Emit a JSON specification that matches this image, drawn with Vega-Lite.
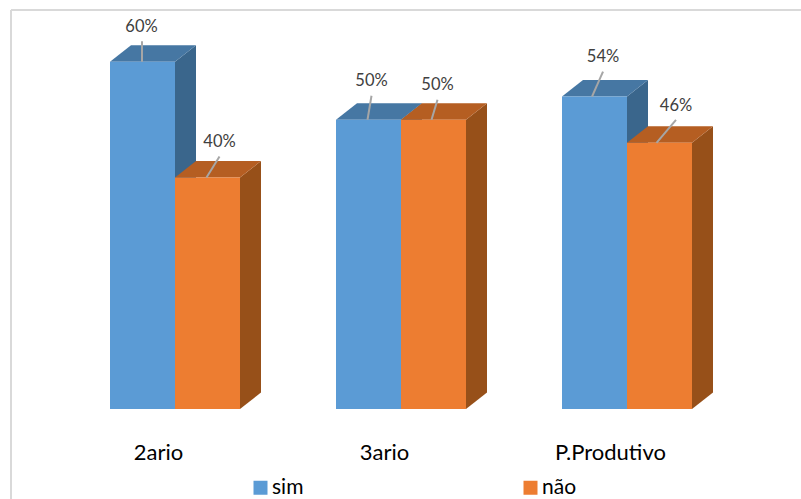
{
  "$schema": "https://vega.github.io/schema/vega-lite/v6.json",
  "width": 678,
  "height": 405,
  "autosize": "none",
  "padding": {"left": 62, "top": 4, "right": 61, "bottom": 90},
  "background": "white",
  "view": {"stroke": null},
  "config": {"font": "Lato"},
  "layer": [
    {
      "data": {"values": [{}]},
      "mark": {"type": "rule", "color": "#d9d9d9", "strokeWidth": 2},
      "encoding": {
        "x": {
          "datum": -0.2257,
          "type": "quantitative",
          "scale": {"domain": [0, 3], "nice": false, "zero": false},
          "axis": {
            "values": [0.5, 1.5, 2.5],
            "labelExpr": "['2ario', '3ario', 'P.Produtivo'][floor(datum.value)]",
            "title": null,
            "domain": false,
            "ticks": false,
            "grid": false,
            "labelFont": "Lato",
            "labelFontSize": 22,
            "labelColor": "#000000",
            "labelPadding": 33,
            "labelOffset": -17,
            "labelFlush": false,
            "labelOverlap": false
          }
        },
        "y": {"datum": 68.96, "type": "quantitative", "scale": {"domain": [0, 70], "nice": false}, "axis": null},
        "y2": {"datum": -16}
      }
    },
    {
      "data": {"values": [{}]},
      "mark": {"type": "rule", "color": "#d9d9d9", "strokeWidth": 2},
      "encoding": {
        "x": {"datum": -0.2257, "type": "quantitative", "scale": {"domain": [0, 3], "nice": false, "zero": false}},
        "x2": {"datum": 3.3},
        "y": {"datum": 68.96, "type": "quantitative", "scale": {"domain": [0, 70], "nice": false}, "axis": null}
      }
    },
    {
      "data": {
        "values": [
          {"grupo": "2ario", "serie": "sim", "valor": 60},
          {"grupo": "2ario", "serie": "não", "valor": 40},
          {"grupo": "3ario", "serie": "sim", "valor": 50},
          {"grupo": "3ario", "serie": "não", "valor": 50},
          {"grupo": "P.Produtivo", "serie": "sim", "valor": 54},
          {"grupo": "P.Produtivo", "serie": "não", "valor": 46}
        ]
      },
      "transform": [
        {"calculate": "indexof(['2ario','3ario','P.Produtivo'], datum.grupo)", "as": "g"},
        {"calculate": "datum.g + 0.5 + (datum.serie === 'sim' ? -65/226 : 0)", "as": "esq"},
        {"calculate": "datum.esq + 65/226", "as": "dir"},
        {"calculate": "(datum.esq + datum.dir) / 2", "as": "centro"},
        {"calculate": "{'2ario|sim':[-0.5,-0.5,20.5,-1,34.5],'2ario|não':[-1,12,21,12,36],'3ario|sim':[-1,3,24,3,39],'3ario|não':[-2,4,20,4,35],'P.Produtivo|sim':[-2.5,8.5,25,8.5,40],'P.Produtivo|não':[-3,16.5,23,16.5,37]}[datum.grupo + '|' + datum.serie]", "as": "guia"},
        {"calculate": "datum.centro + datum.guia[0] / 226", "as": "guiaX"},
        {"calculate": "datum.centro + datum.guia[1] / 226", "as": "guiaX2"},
        {"calculate": "datum.valor + datum.guia[2] / 5.786", "as": "guiaY2"},
        {"calculate": "datum.centro + datum.guia[3] / 226", "as": "rotuloX"},
        {"calculate": "datum.valor + datum.guia[4] / 5.786", "as": "rotuloY"},
        {"calculate": "datum.valor + '%'", "as": "rotulo"}
      ],
      "layer": [
        {
          "transform": [
            {"calculate": "[0, 1]", "as": "t"},
            {"flatten": ["t"]},
            {"calculate": "datum.dir + datum.t * 21/226", "as": "px"},
            {"calculate": "datum.valor + datum.t * 2.85", "as": "py"},
            {"calculate": "datum.t * 2.85", "as": "py2"}
          ],
          "mark": {"type": "area", "orient": "vertical", "interpolate": "linear"},
          "encoding": {
            "x": {"field": "px", "type": "quantitative", "scale": {"domain": [0, 3], "nice": false, "zero": false}},
            "y": {"field": "py", "type": "quantitative", "stack": null, "scale": {"domain": [0, 70], "nice": false}, "axis": null},
            "y2": {"field": "py2"},
            "detail": {"field": "esq"},
            "fill": {"condition": {"test": "datum.serie === 'sim'", "value": "#3a668c"}, "value": "#975019"}
          }
        },
        {
          "transform": [
            {"calculate": "[0, 1, 2, 3]", "as": "t"},
            {"flatten": ["t"]},
            {"calculate": "[datum.esq, datum.esq + 21/226, datum.dir, datum.dir + 21/226][datum.t]", "as": "px"},
            {"calculate": "datum.valor + (datum.t === 3 ? 2.85 : 0)", "as": "py"},
            {"calculate": "datum.valor + (datum.t === 0 ? 0 : 2.85)", "as": "py2"}
          ],
          "mark": {"type": "area", "orient": "vertical", "interpolate": "linear"},
          "encoding": {
            "x": {"field": "px", "type": "quantitative", "scale": {"domain": [0, 3], "nice": false, "zero": false}},
            "y": {"field": "py", "type": "quantitative", "stack": null, "scale": {"domain": [0, 70], "nice": false}, "axis": null},
            "y2": {"field": "py2"},
            "detail": {"field": "esq"},
            "fill": {"condition": {"test": "datum.serie === 'sim'", "value": "#4677a3"}, "value": "#b55e22"}
          }
        },
        {
          "mark": {"type": "bar"},
          "encoding": {
            "x": {"field": "esq", "type": "quantitative", "scale": {"domain": [0, 3], "nice": false, "zero": false}},
            "x2": {"field": "dir"},
            "y": {"field": "valor", "type": "quantitative", "stack": null, "scale": {"domain": [0, 70], "nice": false}, "axis": null},
            "y2": {"datum": 0},
            "color": {
              "field": "serie",
              "type": "nominal",
              "scale": {"domain": ["sim", "não"], "range": ["#5b9bd5", "#ed7d31"]},
              "legend": {
                "title": null,
                "orient": "none",
                "legendX": 188,
                "legendY": 473,
                "direction": "horizontal",
                "columns": 2,
                "columnPadding": 216,
                "symbolType": "square",
                "symbolSize": 196,
                "symbolStrokeWidth": 0,
                "symbolOpacity": 1,
                "labelFont": "Lato",
                "labelFontSize": 21,
                "labelColor": "#000000",
                "labelOffset": 1
              }
            }
          }
        },
        {
          "mark": {"type": "rule", "color": "#a6a6a6", "strokeWidth": 2},
          "encoding": {
            "x": {"field": "guiaX", "type": "quantitative", "scale": {"domain": [0, 3], "nice": false, "zero": false}},
            "x2": {"field": "guiaX2"},
            "y": {"field": "valor", "type": "quantitative", "stack": null, "scale": {"domain": [0, 70], "nice": false}, "axis": null},
            "y2": {"field": "guiaY2"}
          }
        },
        {
          "mark": {"type": "text", "font": "Lato", "fontSize": 16.5, "color": "#404040", "baseline": "middle", "align": "center"},
          "encoding": {
            "x": {"field": "rotuloX", "type": "quantitative", "scale": {"domain": [0, 3], "nice": false, "zero": false}},
            "y": {"field": "rotuloY", "type": "quantitative", "stack": null, "scale": {"domain": [0, 70], "nice": false}, "axis": null},
            "text": {"field": "rotulo"}
          }
        }
      ]
    }
  ]
}
